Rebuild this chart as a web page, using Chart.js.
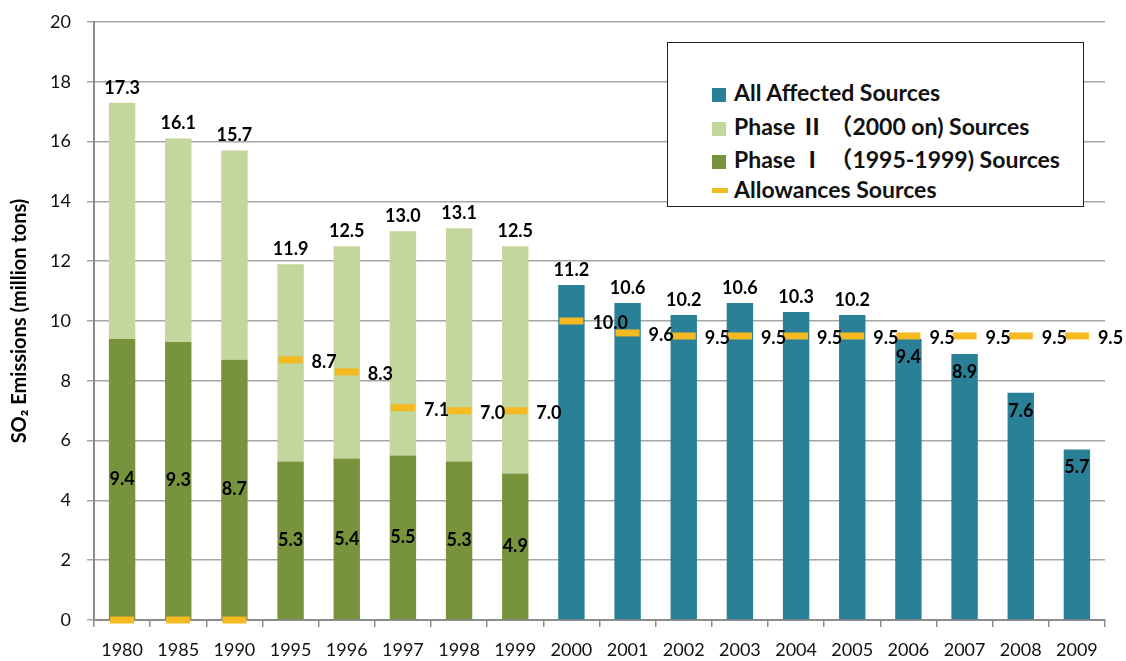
<!DOCTYPE html>
<html lang="en">
  <head>
    <meta charset="UTF-8" />
    <title>SO2 Emissions</title>
    <script src="https://cdn.jsdelivr.net/npm/chart.js@4.4.0/dist/chart.umd.min.js"></script>
    <style>
      body { margin: 0; background: #fff; }
      #wrap { position: relative; width: 1126px; height: 661px; }
      #legend {
        position: absolute; left: 667px; top: 42px; width: 415px; height: 163px;
        border: 1.5px solid #222; background: #fff;
        font-family: Lato, "Noto Sans", "Noto Sans CJK JP", sans-serif; font-weight: bold; font-size: 23px; color: #111;
      }
      .row { position: absolute; left: 44px; height: 28px; line-height: 28px; white-space: nowrap; }
      .sw { display: inline-block; width: 14px; height: 14px; margin-right: 8px; vertical-align: -1px; }
      .dash { display: inline-block; width: 16px; height: 5px; margin-right: 6px; vertical-align: 5px; background: #F5B921; }
    </style>
  </head>
  <body>
    <div id="wrap">
      <canvas id="myChart" width="1126" height="661"></canvas>
      <div id="legend">
        <div class="row" style="top:35px"><span class="sw" style="background:#2A8096"></span>All Affected Sources</div>
        <div class="row" style="top:69px"><span class="sw" style="background:#C3D69B"></span>Phase Ⅱ （2000 on) Sources</div>
        <div class="row" style="top:102px"><span class="sw" style="background:#77933C"></span>Phase Ⅰ （1995-1999) Sources</div>
        <div class="row" style="top:132px"><span class="dash"></span>Allowances Sources</div>
      </div>
    </div>
    <script>
      const years = ['1980','1985','1990','1995','1996','1997','1998','1999','2000','2001','2002','2003','2004','2005','2006','2007','2008','2009'];
      // phase I units (bottom part of the green bars)
      const phase1 = [9.4, 9.3, 8.7, 5.3, 5.4, 5.5, 5.3, 4.9, null, null, null, null, null, null, null, null, null, null];
      // phase II units stacked on top (total minus phase I)
      const phase2 = [7.9, 6.8, 7.0, 6.6, 7.1, 7.5, 7.8, 7.6, null, null, null, null, null, null, null, null, null, null];
      const totals = [17.3, 16.1, 15.7, 11.9, 12.5, 13.0, 13.1, 12.5];
      const allSources = [null, null, null, null, null, null, null, null, 11.2, 10.6, 10.2, 10.6, 10.3, 10.2, 9.4, 8.9, 7.6, 5.7];
      const allowances = [0, 0, 0, 8.7, 8.3, 7.1, 7.0, 7.0, 10.0, 9.6, 9.5, 9.5, 9.5, 9.5, 9.5, 9.5, 9.5, 9.5];

      const FONT = 'Lato, "Noto Sans", sans-serif';

      const labelPlugin = {
        id: 'labels',
        afterDatasetsDraw(chart) {
          const ctx = chart.ctx;
          ctx.save();
          ctx.font = 'bold 18px ' + FONT;
          ctx.fillStyle = '#000';
          ctx.textBaseline = 'middle';
          ctx.textAlign = 'center';
          const m1 = chart.getDatasetMeta(0), m2 = chart.getDatasetMeta(1), m3 = chart.getDatasetMeta(2), m4 = chart.getDatasetMeta(3);
          years.forEach((y, i) => {
            if (phase1[i] != null) {
              const el = m1.data[i];
              ctx.fillText(phase1[i].toFixed(1), el.x, (el.y + el.base) / 2);
              const top = m2.data[i];
              ctx.fillText(totals[i].toFixed(1), top.x, top.y - 15);
            }
            if (allSources[i] != null) {
              const el = m3.data[i];
              if (allSources[i] >= allowances[i]) ctx.fillText(allSources[i].toFixed(1), el.x, el.y - 15);
              else ctx.fillText(allSources[i].toFixed(1), el.x, el.y + 18);
            }
          });
          ctx.textAlign = 'left';
          years.forEach((y, i) => {
            if (allowances[i] > 0) {
              const p = m4.data[i];
              ctx.fillText(allowances[i].toFixed(1), p.x + 21, p.y + 2);
            }
          });
          ctx.restore();
        }
      };

      const ctx = document.getElementById('myChart').getContext('2d');
      const myChart = new Chart(ctx, {
        type: 'bar',
        data: {
          labels: years,
          datasets: [
            { label: 'Phase Ⅰ (1995-1999) Sources', data: phase1, backgroundColor: '#77933C', stack: 's', order: 2 },
            { label: 'Phase Ⅱ (2000 on) Sources', data: phase2, backgroundColor: '#C3D69B', stack: 's', order: 2 },
            { label: 'All Affected Sources', data: allSources, backgroundColor: '#2A8096', stack: 's', order: 2 },
            {
              label: 'Allowances Sources', type: 'line', data: allowances, stack: 'allow', order: 0,
              showLine: false, pointStyle: 'line', pointRadius: 12, pointHoverRadius: 12,
              borderColor: '#F5B921', pointBorderWidth: 7, borderWidth: 7, clip: false
            }
          ]
        },
        options: {
          responsive: false,
          animation: false,
          categoryPercentage: 1,
          barPercentage: 0.47,
          layout: { padding: { top: 22, right: 21, left: 0, bottom: 0 } },
          plugins: { legend: { display: false }, tooltip: { enabled: false } },
          scales: {
            x: {
              stacked: true,
              border: { color: '#8c8c8c', width: 2 },
              grid: { drawOnChartArea: false, tickLength: 7, color: '#8c8c8c', lineWidth: 1.5 },
              ticks: { color: '#111', font: { family: FONT, size: 18 }, padding: 12, maxRotation: 0, autoSkip: false },
              afterFit(scale) { scale.height = 41; }
            },
            y: {
              stacked: true,
              min: 0, max: 20,
              border: { color: '#8c8c8c', width: 2 },
              grid: { color: '#a6a6a6', lineWidth: 1.5, tickLength: 7 },
              ticks: { stepSize: 2, color: '#111', font: { family: FONT, size: 18 }, padding: 16 },
              title: { display: true, text: 'SO₂ Emissions (million tons)', color: '#000', font: { family: FONT, size: 20, weight: 'bold' }, padding: { top: 8, bottom: 4 } },
              afterFit(scale) {
                scale.width = 94;
                scale.paddingTop = 0;
                scale.paddingBottom = 0;
              }
            }
          }
        },
        plugins: [labelPlugin]
      });
    </script>
  </body>
</html>
